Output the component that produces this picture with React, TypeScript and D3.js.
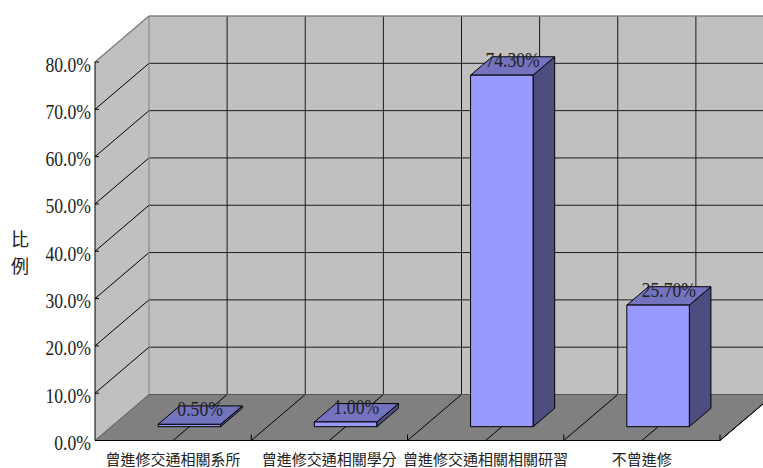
import React from "react";
import * as d3 from "d3";

const categories = ["曾進修交通相關系所", "曾進修交通相關學分", "曾進修交通相關相關研習", "不曾進修"];
const values = [0.005, 0.01, 0.743, 0.257];
const yTicks = [0, 0.1, 0.2, 0.3, 0.4, 0.5, 0.6, 0.7, 0.8];
const yTitle = ["比", "例"];

const W = 763;
const H = 468;
const DX = 54;
const DY = -46;
const SERIF = '"Liberation Serif"';
const CJK = '"Noto Sans CJK TC"';

export default function App() {
  const y = d3.scaleLinear().domain([0, 0.8]).range([440.5, 62]);
  const x = d3.scaleBand<string>().domain(categories).range([95, 720]).paddingInner(0).paddingOuter(0);
  const bw = x.bandwidth();
  const x0 = 95;
  const x1 = 720;
  const yb = y(0);
  const yt = y(0.8);
  const pts = (p: number[][]) => p.map((q) => q.join(",")).join(" ");
  const fmtTick = d3.format(".1%");
  const fmtVal = d3.format(".2%");
  const half = bw / 2;
  const halfIdx = d3.range(1, 9);

  return (
    <svg width={W} height={H} style={{ position: "absolute", left: 0, top: 0, background: "#fff" }}>
      <polygon
        points={pts([
          [x0 + DX, yb + DY],
          [x1 + DX, yb + DY],
          [x1 + DX, yt + DY],
          [x0 + DX, yt + DY],
        ])}
        fill="#c0c0c0"
      />
      <polygon
        points={pts([
          [x0, yb],
          [x0 + DX, yb + DY],
          [x0 + DX, yt + DY],
          [x0, yt],
        ])}
        fill="#c0c0c0"
      />
      <polygon
        points={pts([
          [x0, yb],
          [x1, yb],
          [x1 + DX, yb + DY],
          [x0 + DX, yb + DY],
        ])}
        fill="#808080"
      />
      {yTicks.slice(1, -1).map((t) => (
        <g key={"h" + t}>
          <line x1={x0 + DX} x2={x1 + DX} y1={y(t) + DY} y2={y(t) + DY} stroke="#1a1a1a" strokeWidth={1} />
          <line x1={x0} x2={x0 + DX} y1={y(t)} y2={y(t) + DY} stroke="#000" strokeWidth={1} />
        </g>
      ))}
      {halfIdx.map((k) => (
        <g key={"v" + k}>
          <line
            x1={x0 + DX + k * half}
            x2={x0 + DX + k * half}
            y1={yb + DY}
            y2={yt + DY}
            stroke="#1a1a1a"
            strokeWidth={1}
          />
          <line x1={x0 + k * half} x2={x0 + DX + k * half} y1={yb} y2={yb + DY} stroke="#000" strokeWidth={1} />
        </g>
      ))}
      <line x1={x0 + DX} x2={x0 + DX} y1={yb + DY} y2={yt + DY} stroke="#808080" />
      <line x1={x0 + DX} x2={x1 + DX} y1={yt + DY} y2={yt + DY} stroke="#808080" strokeWidth={1.5} />
      <line x1={x0} x2={x0 + DX} y1={yt} y2={yt + DY} stroke="#808080" strokeWidth={1.5} />
      <line x1={x0} x2={x0 + DX} y1={yb} y2={yb + DY} stroke="#555" />
      <line x1={x0 + DX} x2={x1 + DX} y1={yb + DY} y2={yb + DY} stroke="#555" />
      <line x1={x0} x2={x0} y1={yt} y2={yb} stroke="#000" />
      <line x1={x0} x2={x1} y1={yb} y2={yb} stroke="#000" />
      <line x1={x1} x2={x1 + DX} y1={yb} y2={yb + DY} stroke="#000" />
      {categories.map((c, i) => (
        <line key={"tk" + i} x1={x(c)! + bw} x2={x(c)! + bw} y1={yb} y2={yb - 6} stroke="#000" />
      ))}
      {yTicks.map((t) => (
        <line key={"yt" + t} x1={x0} x2={x0 + 4} y1={y(t)} y2={y(t)} stroke="#000" />
      ))}
      {categories.map((c, i) => {
        const cx = x(c)! + bw / 2 + DX * 0.3;
        const l = cx - bw * 0.2;
        const r = cx + bw * 0.2;
        const bot = y(0) + DY * 0.3;
        const top = y(values[i]) + DY * 0.3;
        const ddx = DX * 0.4;
        const ddy = DY * 0.4;
        return (
          <g key={"b" + i} stroke="#000" strokeWidth={1} strokeLinejoin="round">
            <polygon
              points={pts([
                [r, bot],
                [r + ddx, bot + ddy],
                [r + ddx, top + ddy],
                [r, top],
              ])}
              fill="#4d4d80"
            />
            <polygon
              points={pts([
                [l, top],
                [r, top],
                [r + ddx, top + ddy],
                [l + ddx, top + ddy],
              ])}
              fill="#7373c0"
            />
            <rect x={l} y={top} width={r - l} height={bot - top} fill="#9999ff" />
          </g>
        );
      })}
      {categories.map((c, i) => {
        const cx = x(c)! + bw / 2 + DX * 0.3 + DX * 0.2;
        const ty = y(values[i]) + DY * 0.3 + DY * 0.2 + 1;
        return (
          <text
            key={"vl" + i}
            transform={`translate(${cx},${ty}) scale(0.84,1)`}
            textAnchor="middle"
            style={{ fontFamily: SERIF, fontSize: "21px" }}
            fill="#222"
          >
            {fmtVal(values[i])}
          </text>
        );
      })}
      {yTicks.map((t) => (
        <text
          key={"yl" + t}
          transform={`translate(91,${y(t) + 9.5}) scale(0.84,1)`}
          textAnchor="end"
          style={{ fontFamily: SERIF, fontSize: "21px" }}
          fill="#222"
        >
          {fmtTick(t)}
        </text>
      ))}
      {categories.map((c) => (
        <text
          key={"cl" + c}
          x={x(c)! + bw / 2}
          y={465}
          textAnchor="middle"
          style={{ fontFamily: CJK, fontSize: "15px" }}
          fill="#222"
        >
          {c}
        </text>
      ))}
      {yTitle.map((ch, i) => (
        <text
          key={"ytt" + ch}
          x={20}
          y={246 + i * 27}
          textAnchor="middle"
          style={{ fontFamily: CJK, fontSize: "18px" }}
          fill="#222"
        >
          {ch}
        </text>
      ))}
    </svg>
  );
}
